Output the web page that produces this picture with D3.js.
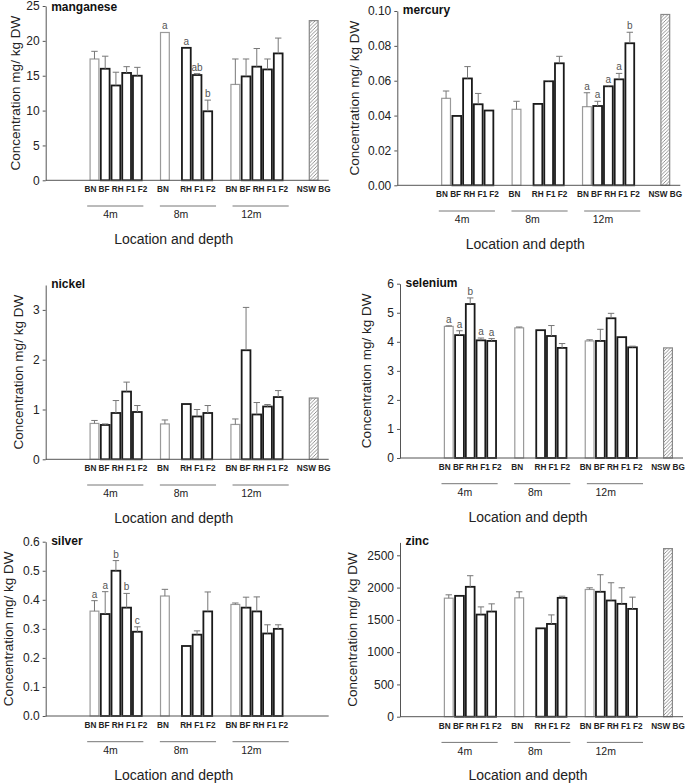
<!DOCTYPE html>
<html><head><meta charset="utf-8">
<script src="https://cdn.jsdelivr.net/npm/d3@7"></script>
<style>
body{margin:0;background:#fff;}
text{font-family:Arial,"Liberation Sans",sans-serif;}
</style>
</head><body>
<svg id="c" width="685" height="783"></svg>
<script>
// ---------- DATA ----------
const groups = ["4m", "8m", "12m"];
const sites = ["BN", "BF", "RH", "F1", "F2"];
const bgLabel = "NSW BG";
const xTitle = "Location and depth";
const yTitle = "Concentration mg/ kg DW";

const manganeseMean = [[17.4, 16.0, 13.6, 15.4, 15.0], [21.2, null, 19.0, 15.1, 9.9], [13.75, 14.9, 16.3, 15.9, 18.2]];
const manganeseErr = [[1.1, 1.8, 1.9, 0.9, 1.2], [0, null, 0, 0.2, 1.6], [3.65, 2.5, 2.6, 1.5, 2.2]];
const manganeseLetters = [["", "", "", "", ""], ["a", "", "a", "ab", "b"], ["", "", "", "", ""]];
const manganeseBG = 22.9;
const manganeseTicks = [0, 5, 10, 15, 20, 25];

const mercuryMean = [[0.0499, 0.0398, 0.0613, 0.0465, 0.0429], [0.0436, null, 0.0467, 0.0597, 0.0700], [0.0451, 0.0455, 0.0568, 0.0608, 0.0815]];
const mercuryErr = [[0.0042, 0, 0.0068, 0.0062, 0], [0.0046, null, 0, 0.0004, 0.0040], [0.0080, 0.0027, 0.0004, 0.0034, 0.0063]];
const mercuryLetters = [["", "", "", "", ""], ["", "", "", "", ""], ["a", "a", "a", "a", "b"]];
const mercuryBG = 0.098;
const mercuryTicks = [0, 0.02, 0.04, 0.06, 0.08, 0.10];

const nickelMean = [[0.72, 0.69, 0.93, 1.36, 0.95], [0.71, null, 1.11, 0.86, 0.93], [0.70, 2.19, 0.90, 1.06, 1.25]];
const nickelErr = [[0.06, 0.02, 0.25, 0.19, 0.13], [0.08, null, 0, 0.14, 0.15], [0.11, 0.86, 0.24, 0.04, 0.13]];
const nickelLetters = [["", "", "", "", ""], ["", "", "", "", ""], ["", "", "", "", ""]];
const nickelBG = 1.23;
const nickelTicks = [0, 1, 2, 3];

const seleniumMean = [[4.53, 4.23, 5.30, 4.05, 4.03], [4.48, null, 4.40, 4.20, 3.79], [4.03, 4.03, 4.81, 4.16, 3.81]];
const seleniumErr = [[0.02, 0.15, 0.21, 0.08, 0.08], [0.03, null, 0, 0.36, 0.15], [0.04, 0.40, 0.17, 0, 0.04]];
const seleniumLetters = [["a", "a", "b", "a", "a"], ["", "", "", "", ""], ["", "", "", "", ""]];
const seleniumBG = 3.79;
const seleniumTicks = [0, 1, 2, 3, 4, 5, 6];

const silverMean = [[0.361, 0.351, 0.500, 0.373, 0.290], [0.413, null, 0.241, 0.280, 0.360], [0.384, 0.373, 0.360, 0.284, 0.300]];
const silverErr = [[0.036, 0.077, 0.035, 0.049, 0.017], [0.023, null, 0, 0.013, 0.067], [0.005, 0.036, 0.050, 0.030, 0.014]];
const silverLetters = [["a", "a", "b", "b", "c"], ["", "", "", "", ""], ["", "", "", "", ""]];
const silverBG = null;
const silverTicks = [0, 0.1, 0.2, 0.3, 0.4, 0.5, 0.6];

const zincMean = [[1836, 1872, 2012, 1582, 1629], [1841, null, 1369, 1437, 1841], [1971, 1935, 1800, 1748, 1670]];
const zincErr = [[52, 0, 172, 119, 119], [94, null, 0, 140, 26], [26, 264, 275, 249, 182]];
const zincLetters = [["", "", "", "", ""], ["", "", "", "", ""], ["", "", "", "", ""]];
const zincBG = 2604;
const zincTicks = [0, 500, 1000, 1500, 2000, 2500];

const panels = [
  {name: "manganese", mean: manganeseMean, err: manganeseErr, letters: manganeseLetters, bg: manganeseBG, ticks: manganeseTicks, max: 25, fmt: d3.format("d")},
  {name: "mercury", mean: mercuryMean, err: mercuryErr, letters: mercuryLetters, bg: mercuryBG, ticks: mercuryTicks, max: 0.1, fmt: d3.format(".2f")},
  {name: "nickel", mean: nickelMean, err: nickelErr, letters: nickelLetters, bg: nickelBG, ticks: nickelTicks, max: 3.5, fmt: d3.format("d")},
  {name: "selenium", mean: seleniumMean, err: seleniumErr, letters: seleniumLetters, bg: seleniumBG, ticks: seleniumTicks, max: 6, fmt: d3.format("d")},
  {name: "silver", mean: silverMean, err: silverErr, letters: silverLetters, bg: silverBG, ticks: silverTicks, max: 0.6, fmt: d3.format(".1f")},
  {name: "zinc", mean: zincMean, err: zincErr, letters: zincLetters, bg: zincBG, ticks: zincTicks, max: 2700, fmt: d3.format("d")}
];

// ---------- LAYOUT ----------
const layout = {
  manganese: {ax: 45.7, y0: 180.3, tx: 19.5},
  mercury:   {ax: 397.3, y0: 185.3, tx: 359},
  nickel:    {ax: 45.7, y0: 459.3, tx: 23},
  selenium:  {ax: 400, y0: 458, tx: 371},
  silver:    {ax: 45.7, y0: 716, tx: 13},
  zinc:      {ax: 400, y0: 716.7, tx: 356.5}
};
const W = 283, H = 174.3, SLOTS = 26.4;
const groupBase = gi => 4.55 + gi * 6.57;
const bgPos = 25.0;
const lineStart = gi => 3.87 + gi * 6.78;
const lineLen = 5.24;

const svg = d3.select("#c");
const defs = svg.append("defs");
defs.append("pattern").attr("id", "hatch").attr("patternUnits", "userSpaceOnUse")
  .attr("width", 3.5).attr("height", 3.5)
  .append("path").attr("d", "M-1,1 l2,-2 M0,3.5 l3.5,-3.5 M2.5,4.5 l2,-2")
  .attr("stroke", "#777").attr("stroke-width", 0.8);

panels.forEach(p => {
  const L = layout[p.name];
  const x = d3.scaleLinear().domain([0, SLOTS]).range([L.ax, L.ax + W]);
  const y = d3.scaleLinear().domain([0, p.max]).range([L.y0, L.y0 - H]);
  const g = svg.append("g");
  const bw = x(0.82) - x(0);

  const items = [];
  groups.forEach((gr, gi) => sites.forEach((s, si) => {
    const v = p.mean[gi][si];
    if (v == null) return;
    items.push({pos: groupBase(gi) + si, v, e: p.err[gi][si] || 0, l: p.letters[gi][si], site: s});
  }));

  // bars
  g.selectAll("rect.bar").data(items).enter().append("rect")
    .attr("x", d => x(d.pos) - bw / 2).attr("y", d => y(d.v))
    .attr("width", bw).attr("height", d => y(0) - y(d.v))
    .attr("fill", "#fff")
    .attr("stroke", d => d.site === "BN" ? "#9a9a9a" : "#1a1a1a")
    .attr("stroke-width", d => d.site === "BN" ? 1.2 : 1.8);

  // error bars
  const eb = items.filter(d => d.e > 0);
  g.selectAll("line.eb").data(eb).enter().append("line")
    .attr("x1", d => x(d.pos)).attr("x2", d => x(d.pos))
    .attr("y1", d => y(d.v)).attr("y2", d => y(d.v + d.e))
    .attr("stroke", "#777").attr("stroke-width", 1);
  g.selectAll("line.cap").data(eb).enter().append("line")
    .attr("x1", d => x(d.pos) - 3.2).attr("x2", d => x(d.pos) + 3.2)
    .attr("y1", d => y(d.v + d.e)).attr("y2", d => y(d.v + d.e))
    .attr("stroke", "#777").attr("stroke-width", 1);

  // letters
  g.selectAll("text.let").data(items.filter(d => d.l)).enter().append("text")
    .attr("x", d => x(d.pos)).attr("y", d => y(d.v + d.e) - 3)
    .attr("text-anchor", "middle").attr("font-size", 10).attr("fill", "#555")
    .text(d => d.l);

  // background bar
  if (p.bg != null) {
    g.append("rect").attr("x", x(bgPos) - bw / 2).attr("y", y(p.bg))
      .attr("width", bw).attr("height", y(0) - y(p.bg))
      .attr("fill", "url(#hatch)").attr("stroke", "#888").attr("stroke-width", 1.2);
  }

  // axes
  const ya = g.append("g").attr("transform", `translate(${L.ax},0)`)
    .call(d3.axisLeft(y).tickValues(p.ticks).tickFormat(p.fmt).tickSize(3).tickSizeOuter(0).tickPadding(3));
  ya.select(".domain").attr("stroke", "#555");
  ya.selectAll(".tick line").attr("stroke", "#555");
  ya.selectAll("text").attr("font-size", 12).attr("fill", "#222").attr("font-family", "Arial, 'Liberation Sans', sans-serif");

  g.append("line").attr("x1", x(0)).attr("x2", x(SLOTS)).attr("y1", L.y0).attr("y2", L.y0)
    .attr("stroke", "#555").attr("stroke-width", 1);

  // category labels: one label row per group, centred under the middle bar
  const rows = groups.map((gr, gi) => ({
    pos: groupBase(gi) + 2,
    t: sites.map((s, si) => p.mean[gi][si] == null ? "   " : s).join(" ")
  }));
  if (p.bg != null) rows.push({pos: bgPos, t: bgLabel});
  g.selectAll("text.cat").data(rows).enter().append("text")
    .attr("x", d => x(d.pos)).attr("y", L.y0 + 12)
    .attr("text-anchor", "middle").attr("font-size", 8.2).attr("font-weight", "bold").attr("fill", "#222")
    .style("white-space", "pre").attr("xml:space", "preserve")
    .text(d => d.t);

  // group lines and labels
  g.selectAll("line.grp").data(groups).enter().append("line")
    .attr("x1", (d, i) => x(lineStart(i))).attr("x2", (d, i) => x(lineStart(i) + lineLen))
    .attr("y1", L.y0 + 25.7).attr("y2", L.y0 + 25.7)
    .attr("stroke", "#777").attr("stroke-width", 1);
  g.selectAll("text.grp").data(groups).enter().append("text")
    .attr("x", (d, i) => x(groupBase(i) + 1.5)).attr("y", L.y0 + 38)
    .attr("text-anchor", "middle").attr("font-size", 10.5).attr("fill", "#222")
    .text(d => d);

  // titles
  g.append("text").attr("x", L.ax + 128).attr("y", L.y0 + 63.5)
    .attr("text-anchor", "middle").attr("font-size", 14).attr("fill", "#222").text(xTitle);
  g.append("text").attr("transform", `translate(${L.tx},${L.y0 - H / 2}) rotate(-90)`)
    .attr("text-anchor", "middle").attr("font-size", 13.5).attr("fill", "#222").text(yTitle);
  g.append("text").attr("x", L.ax + 5.5).attr("y", Math.max(L.y0 - H + 3, 11))
    .attr("font-size", 12).attr("font-weight", "bold").attr("fill", "#111").text(p.name);
});
</script>
</body></html>
